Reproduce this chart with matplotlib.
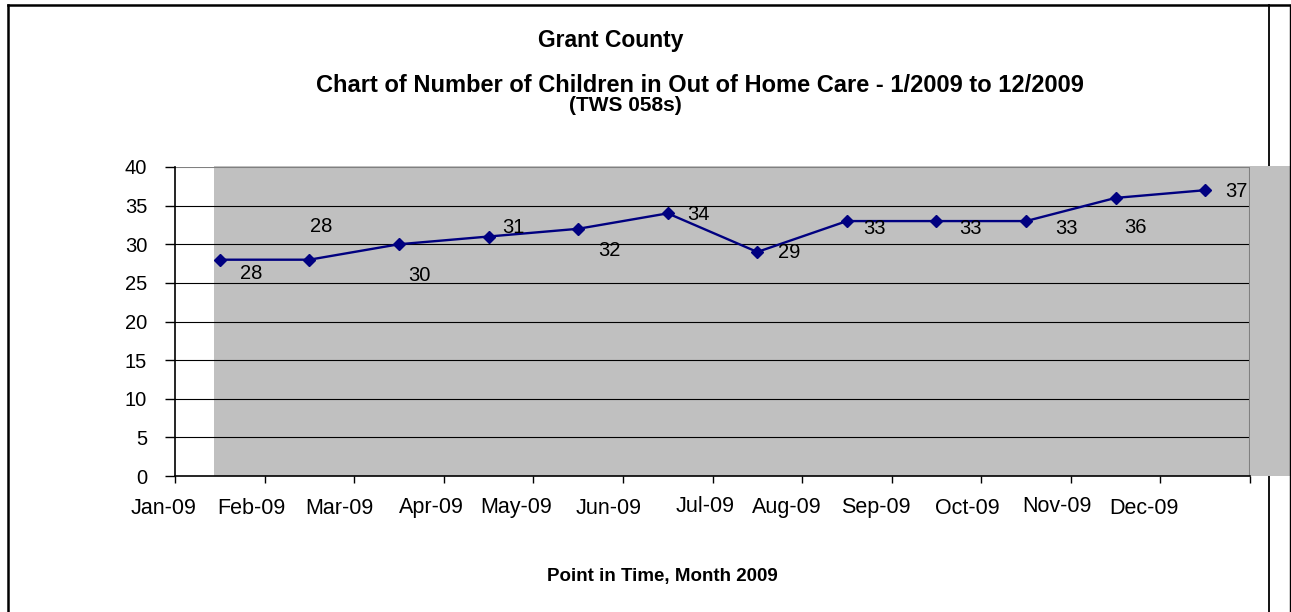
import numpy as np
import matplotlib.pyplot as plt
from matplotlib.patches import Rectangle
from matplotlib.lines import Line2D
import matplotlib.transforms as mtransforms

plt.rcParams['font.family'] = ['Liberation Sans', 'DejaVu Sans']

# 数据
months = ['Jan-09', 'Feb-09', 'Mar-09', 'Apr-09', 'May-09', 'Jun-09',
          'Jul-09', 'Aug-09', 'Sep-09', 'Oct-09', 'Nov-09', 'Dec-09']
children = [28, 28, 30, 31, 32, 34, 29, 33, 33, 33, 36, 37]

# 标签位置（像素偏移）和月份标签位置
label_offsets = [(31, -14), (12, 33), (20, -31), (25, 9), (31, -22), (31, -1),
                 (32, -1), (28, -7), (34, -7), (40, -7), (20, -30), (31, -1)]
month_label_x = [-0.13, 0.85, 1.84, 2.86, 3.81, 4.84, 5.92, 6.83, 7.82, 8.85, 9.85, 10.82]
month_label_dy = [0, 0, 0, 0, 0, 0, 2, 0, 0, 0, 2, 0]

W, H = 1291, 612
fig = plt.figure(figsize=(W / 100, H / 100), dpi=100)
ax = fig.add_axes([175 / W, 1 - 476 / H, (1250 - 175) / W, (476 - 167) / H])

x = np.arange(len(children)) + 0.5
ax.set_xlim(0, 12)
ax.set_ylim(0, 40)

# 灰色绘图区
ax.add_patch(Rectangle((0.435, 0), 12.45 - 0.435, 40.1, facecolor='#c0c0c0',
                       edgecolor='none', clip_on=False, zorder=0))
ax.set_facecolor('none')

# 网格线
for v in range(5, 40, 5):
    ax.axhline(v, color='black', lw=0.8, zorder=1)
ax.axhline(40, color='#808080', lw=1.5, zorder=1)
ax.axvline(12, color='#808080', lw=1.5, zorder=1)

ax.plot(x, children, color='#000080', lw=1.7, marker='D', markersize=6.5, zorder=3)

for xi, yi, off in zip(x, children, label_offsets):
    ax.annotate(str(yi), (xi, yi), xytext=off, textcoords='offset pixels',
                ha='center', va='center', fontsize=14.5)

for s in ['top', 'right']:
    ax.spines[s].set_visible(False)
ax.spines['left'].set_color('black')
ax.spines['bottom'].set_color('black')
ax.spines['left'].set_linewidth(1.2)
ax.spines['bottom'].set_linewidth(1.2)

ax.set_yticks(range(0, 45, 5))
ax.tick_params(axis='y', length=7, width=1, pad=13, labelsize=14.5)
ax.set_xticks(range(0, 13), minor=True)
ax.set_xticks([])
ax.tick_params(axis='x', which='minor', length=5, width=1)

trans = mtransforms.blended_transform_factory(ax.transData, fig.transFigure)
for lx, lab, dy in zip(month_label_x, months, month_label_dy):
    ax.text(lx, 1 - (508 - dy) / H, lab, transform=trans, ha='center', va='center',
            fontsize=15.5)

# 标题
fig.text(611 / W, 1 - 41 / H, 'Grant County', ha='center', va='center',
         fontsize=16.5, fontweight='bold')
fig.text(700 / W, 1 - 86 / H, 'Chart of Number of Children in Out of Home Care - 1/2009 to 12/2009',
         ha='center', va='center', fontsize=17, fontweight='bold')
fig.text(625 / W, 1 - 105 / H, '(TWS 058s)', ha='center', va='center',
         fontsize=15, fontweight='bold')
fig.text(662 / W, 1 - 577 / H, 'Point in Time, Month 2009', ha='center', va='center',
         fontsize=13.5, fontweight='bold')

# 外框
fig.add_artist(Line2D([8 / W, 8 / W], [0, 1 - 5 / H], color='black', lw=1.8, transform=fig.transFigure))
fig.add_artist(Line2D([8 / W, 1], [1 - 5 / H, 1 - 5 / H], color='black', lw=1.8, transform=fig.transFigure))
fig.add_artist(Line2D([1269 / W, 1269 / W], [0, 1 - 5 / H], color='black', lw=1.3,
                      transform=fig.transFigure, zorder=-1))
fig.add_artist(Line2D([1289.5 / W, 1289.5 / W], [0, 1 - 5 / H], color='black', lw=1.0,
                      transform=fig.transFigure))

fig.savefig('out.png', dpi=100)
